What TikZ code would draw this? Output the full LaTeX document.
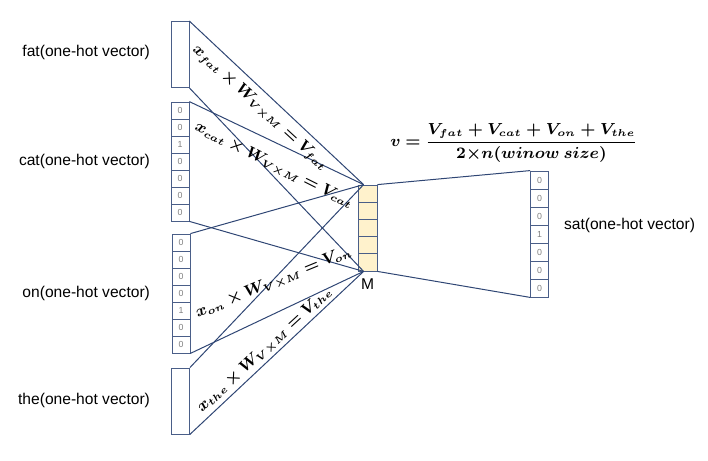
\documentclass[tikz,border=0pt]{standalone}
\usepackage{fontspec}
\setmainfont{Liberation Sans}
\usepackage{amsmath,bm}
\usepackage{tikz}
\usetikzlibrary{positioning,calc}
\definecolor{linkBlue}{HTML}{2F4674}
\definecolor{cellBlue}{HTML}{4A5E88}
\definecolor{hidYellow}{HTML}{FFF2CC}
\definecolor{digitGray}{HTML}{7F7F7F}

\begin{document}
\begin{tikzpicture}[x=0.5pt,y=-0.5pt,
  cell/.style={draw=cellBlue,inner sep=0pt,minimum width=9pt,minimum height=8.5pt,font=\fontsize{4.4}{5}\selectfont,text=digitGray},
  blank/.style={draw=cellBlue,inner sep=0pt,minimum width=9pt,minimum height=33pt},
  mcell/.style={draw=cellBlue,fill=hidYellow,inner sep=0pt,minimum width=9.5pt,minimum height=8.6pt},
  link/.style={draw=linkBlue,line width=0.5pt},
  lbl/.style={font=\fontsize{7.8}{9}\selectfont,text=black},
  eq/.style={font=\fontsize{7.6}{9}\selectfont,inner sep=0pt}
]
  \useasboundingbox (0,0) rectangle (708,461);
  % input vectors
  \node[blank] (fat) at (180,54.5) {};
  \foreach \d [count=\i] in {0,0,1,0,0,0,0}
    \node[cell] (cat\i) at (180,102+17*\i-8.5) {\d};
  \foreach \d [count=\i] in {0,0,0,0,1,0,0}
    \node[cell] (on\i) at (181,234+17*\i-8.5) {\d};
  \node[blank] (the) at (180.5,401) {};
  % hidden layer M
  \foreach \i in {1,...,5}
    \node[mcell] (m\i) at (367.5,185+17.2*\i-8.6) {};
  \node[lbl,below=0pt of m5] (mlab) {M};
  \coordinate (mtop) at ($(m1.north west)+(6,0)$);
  \coordinate (mbot) at ($(m5.south west)+(6,0)$);
  % output vector
  \foreach \d [count=\i] in {0,0,0,1,0,0,0}
    \node[cell,minimum height=9pt] (sat\i) at (539.5,171+18*\i-9) {\d};
  % labels
  \node[lbl,anchor=east] (fatlab) at (157,52) {fat(one-hot vector)};
  \node[lbl,anchor=east] (catlab) at (157,161) {cat(one-hot vector)};
  \node[lbl,anchor=east] (onlab) at (157,293) {on(one-hot vector)};
  \node[lbl,anchor=east] (thelab) at (157,400) {the(one-hot vector)};
  \node[lbl,anchor=west] (satlab) at (557,225) {sat(one-hot vector)};
  % connections
  \draw[link] (fat.north east) -- (mtop);
  \draw[link] (fat.south east) -- (mbot);
  \draw[link] (cat1.north east) -- (mtop);
  \draw[link] (cat7.south east) -- (mbot);
  \draw[link] (on1.north east) -- (mtop);
  \draw[link] (on7.south east) -- (mbot);
  \draw[link] (the.north east) -- (mtop);
  \draw[link] (the.south east) -- (mbot);
  \draw[link] (m1.north east) -- (sat1.north west);
  \draw[link] (m5.south east) -- (sat7.south west);
  % equations
  \node[eq,rotate=-42.6] (eqfat) at (260,108) {$\bm{x_{fat}\times W_{V{\times}M}= V_{fat}}$};
  \node[eq,rotate=-26.6] (eqcat) at (274,166) {$\bm{x_{cat}\times W_{V{\times}M}= V_{cat}}$};
  \node[eq,rotate=22.2] (eqon) at (274,283) {$\bm{x_{on}\times W_{V{\times}M}= V_{on}}$};
  \node[eq,rotate=42.6] (eqthe) at (265,350) {$\bm{x_{the}\times W_{V{\times}M}= V_{the}}$};
  \node[eq,font=\fontsize{7.6}{9}\selectfont] (avg) at (514,143) {$\bm{v = \dfrac{V_{fat}+V_{cat}+V_{on}+V_{the}}{2{\times}n(winow\ size)}}$};
\end{tikzpicture}
\end{document}
